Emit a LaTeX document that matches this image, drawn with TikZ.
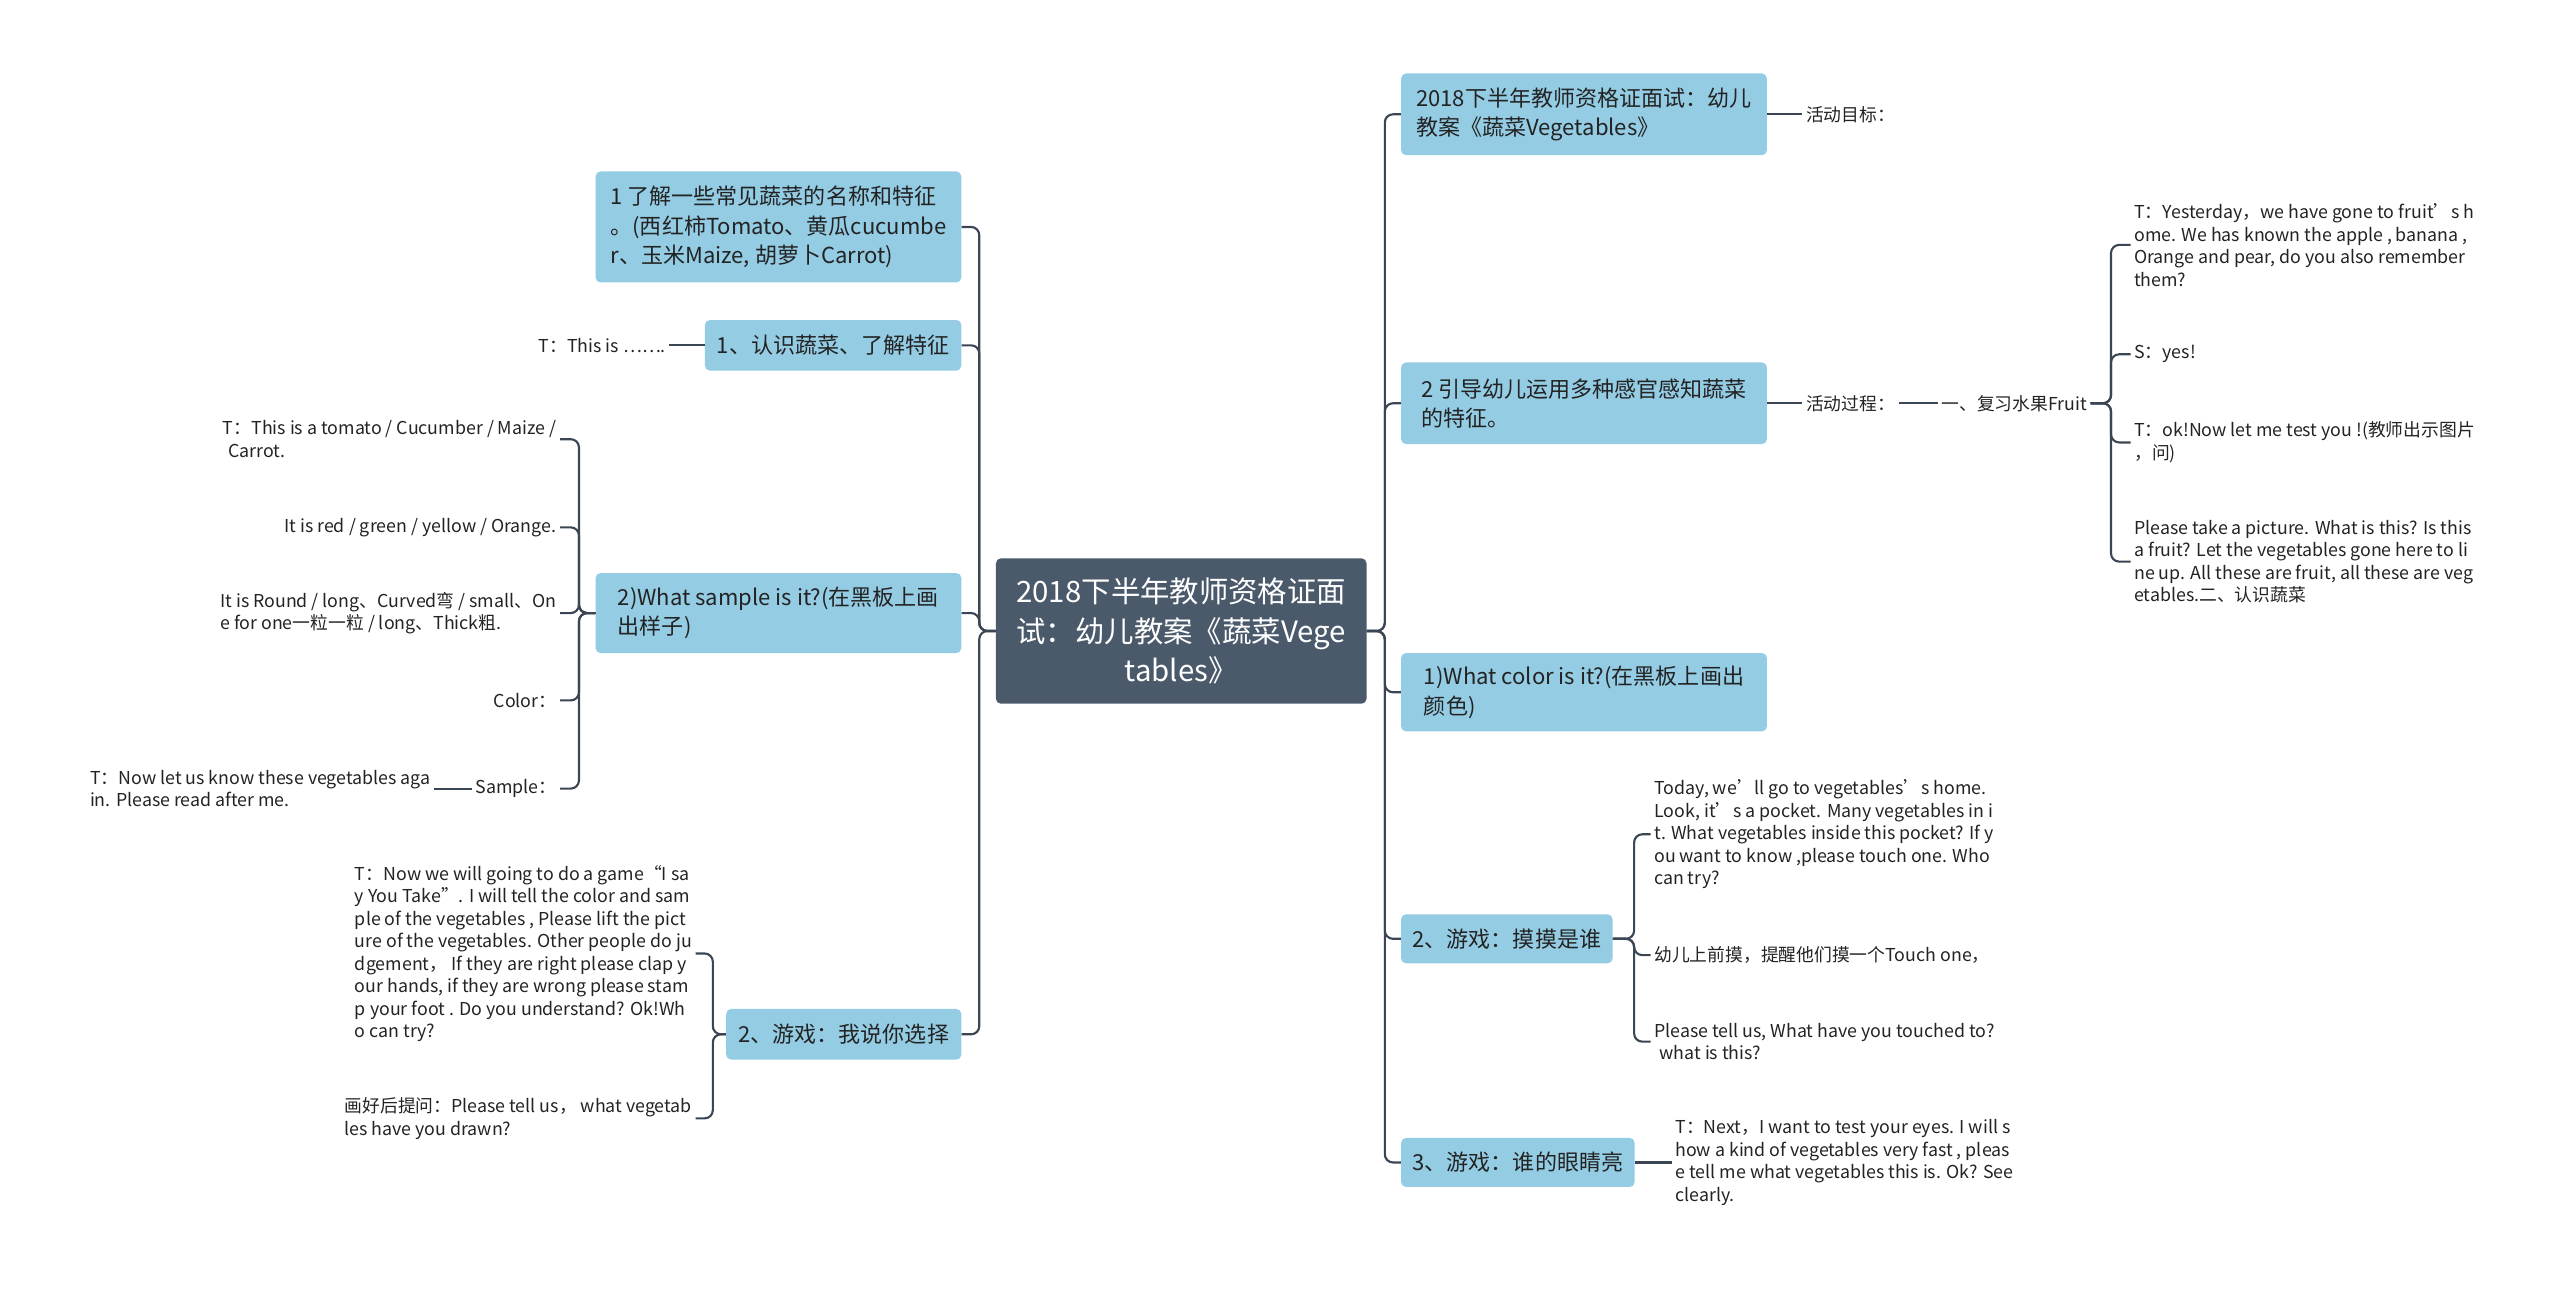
\documentclass[tikz,border=0pt]{standalone}
\usepackage{fontspec}
\setmainfont{Noto Sans CJK SC}
\definecolor{rootc}{RGB}{74,90,107}
\definecolor{topicc}{RGB}{148,204,228}
\definecolor{linec}{RGB}{58,70,84}
\definecolor{textc}{RGB}{35,35,35}
\begin{document}
\begin{tikzpicture}[x=1pt,y=-1pt,
	root/.style={fill=rootc, text=white, rounded corners=3pt, align=center, minimum width=227pt, minimum height=89pt, font=\fontsize{18}{24}\selectfont},
	topic/.style={fill=topicc, text=textc, rounded corners=3pt, align=left, inner xsep=7pt, font=\fontsize{13.5}{18}\selectfont},
	leaf/.style={text=textc, inner sep=2pt, align=left, font=\fontsize{10.9}{13.8}\selectfont},
	link/.style={draw=linec, line width=1.3pt, rounded corners=5pt}]
	\useasboundingbox (0,0) rectangle (1568,790);

	\node (lesson) [root] at (723.5,386.5) {2018下半年教师资格证面\\试：幼儿教案《蔬菜Vege\\tables》};

	\node (aim) [topic, anchor=east, minimum width=224pt, minimum height=68pt] at (589,139) {1 了解一些常见蔬菜的名称和特征\\。(西红柿Tomato、黄瓜cucumbe\\r、玉米Maize, 胡萝卜Carrot)};
	\node (learn) [topic, anchor=east, minimum width=157pt, minimum height=31pt] at (589,211.5) {1、认识蔬菜、了解特征};
	\node (sample) [topic, anchor=east, minimum width=224pt, minimum height=49pt] at (589,375.5) {2)What sample is it?(在黑板上画\\出样子)};
	\node (choose) [topic, anchor=east, minimum width=144pt, minimum height=31pt] at (589,633.5) {2、游戏：我说你选择};

	\node (title) [topic, anchor=west, minimum width=224pt, minimum height=50pt] at (858,70) {2018下半年教师资格证面试：幼儿\\教案《蔬菜Vegetables》};
	\node (senses) [topic, anchor=west, minimum width=224pt, minimum height=50pt] at (858,247) {2 引导幼儿运用多种感官感知蔬菜\\的特征。};
	\node (colour) [topic, anchor=west, minimum width=224pt, minimum height=48pt] at (858,424) {1)What color is it?(在黑板上画出\\颜色)};
	\node (touch) [topic, anchor=west, minimum width=129pt, minimum height=30pt] at (858,575) {2、游戏：摸摸是谁};
	\node (eyes) [topic, anchor=west, minimum width=142pt, minimum height=30pt] at (858,712) {3、游戏：谁的眼睛亮};

	\node (thisis) [leaf, anchor=east] at (410,211.5) {T：This is …….};
	\node (tomato) [leaf, anchor=east] at (343,269) {T：This is a tomato / Cucumber / Maize /\\\hspace*{0.3em}Carrot.};
	\node (redgreen) [leaf, anchor=east] at (343,323) {It is red / green / yellow / Orange.};
	\node (round) [leaf, anchor=east] at (343,375.5) {It is Round / long、Curved弯 / small、On\\e for one一粒一粒 / long、Thick粗.};
	\node (colorlbl) [leaf, anchor=east] at (343,429) {Color：};
	\node (samplelbl) [leaf, anchor=east] at (343,483) {Sample：};
	\node (readafter) [leaf, anchor=east] at (266,483) {T：Now let us know these vegetables aga\\in. Please read after me.};
	\node (gametxt) [leaf, anchor=east] at (426,584) {T：Now we will going to do a game“I sa\\y You Take”. I will tell the color and sam\\ple of the vegetables , Please lift the pict\\ure of the vegetables. Other people do ju\\dgement， If they are right please clap y\\our hands, if they are wrong please stam\\p your foot . Do you understand? Ok!Wh\\o can try?};
	\node (drawnq) [leaf, anchor=east] at (426,685) {画好后提问：Please tell us， what vegetab\\les have you drawn?};

	\node (goal) [leaf, anchor=west] at (1104,70) {活动目标：};
	\node (process) [leaf, anchor=west] at (1104,247) {活动过程：};
	\node (fruit) [leaf, anchor=west] at (1187,247) {一、复习水果Fruit};
	\coordinate (fruitfork) at (1293,247);
	\node (yesterday) [leaf, anchor=west] at (1305,150) {T：Yesterday，we have gone to fruit’s h\\ome. We has known the apple , banana ,\\Orange and pear, do you also remember\\them?};
	\node (yes) [leaf, anchor=west] at (1305,217) {S：yes!};
	\node (testyou) [leaf, anchor=west] at (1305,271) {T：ok!Now let me test you !(教师出示图片\\，问)};
	\node (picture) [leaf, anchor=west] at (1305,344) {Please take a picture. What is this? Is this\\a fruit? Let the vegetables gone here to li\\ne up. All these are fruit, all these are veg\\etables.二、认识蔬菜};
	\node (pocket) [leaf, anchor=west] at (1011,511) {Today, we’ll go to vegetables’s home.\\Look, it’s a pocket. Many vegetables in i\\t. What vegetables inside this pocket? If y\\ou want to know ,please touch one. Who\\can try?};
	\node (touchone) [leaf, anchor=west] at (1011,585) {幼儿上前摸，提醒他们摸一个Touch one，};
	\node (touched) [leaf, anchor=west] at (1011,638) {Please tell us, What have you touched to?\\\hspace*{0.3em}what is this?};
	\node (nexttest) [leaf, anchor=west] at (1024,712) {T：Next，I want to test your eyes. I will s\\how a kind of vegetables very fast , pleas\\e tell me what vegetables this is. Ok? See\\clearly.};

	\draw [link] (lesson.west) -- ++(-10,0) |- (aim.east);
	\draw [link] (lesson.west) -- ++(-10,0) |- (learn.east);
	\draw [link] (lesson.west) -- ++(-10,0) |- (sample.east);
	\draw [link] (lesson.west) -- ++(-10,0) |- (choose.east);
	\draw [link] (lesson.east) -- ++(11,0) |- (title.west);
	\draw [link] (lesson.east) -- ++(11,0) |- (senses.west);
	\draw [link] (lesson.east) -- ++(11,0) |- (colour.west);
	\draw [link] (lesson.east) -- ++(11,0) |- (touch.west);
	\draw [link] (lesson.east) -- ++(11,0) |- (eyes.west);

	\draw [link] (learn.west) -- (thisis.east);
	\draw [link] (sample.west) -- ++(-10,0) |- (tomato.east);
	\draw [link] (sample.west) -- ++(-10,0) |- (redgreen.east);
	\draw [link] (sample.west) -- ++(-10,0) |- (round.east);
	\draw [link] (sample.west) -- ++(-10,0) |- (colorlbl.east);
	\draw [link] (sample.west) -- ++(-10,0) |- (samplelbl.east);
	\draw [link] (samplelbl.west) -- (readafter.east);
	\draw [link] (choose.west) -- ++(-8,0) |- (gametxt.east);
	\draw [link] (choose.west) -- ++(-8,0) |- (drawnq.east);

	\draw [link] (title.east) -- (goal.west);
	\draw [link] (senses.east) -- (process.west);
	\draw [link] (process.east) -- (fruit.west);
	\draw [link] (fruit.east) -- (fruitfork) |- (yesterday.west);
	\draw [link] (fruit.east) -- (fruitfork) |- (yes.west);
	\draw [link] (fruit.east) -- (fruitfork) |- (testyou.west);
	\draw [link] (fruit.east) -- (fruitfork) |- (picture.west);
	\draw [link] (touch.east) -- ++(13,0) |- (pocket.west);
	\draw [link] (touch.east) -- ++(13,0) |- (touchone.west);
	\draw [link] (touch.east) -- ++(13,0) |- (touched.west);
	\draw [link] (eyes.east) -- (nexttest.west);
\end{tikzpicture}
\end{document}
